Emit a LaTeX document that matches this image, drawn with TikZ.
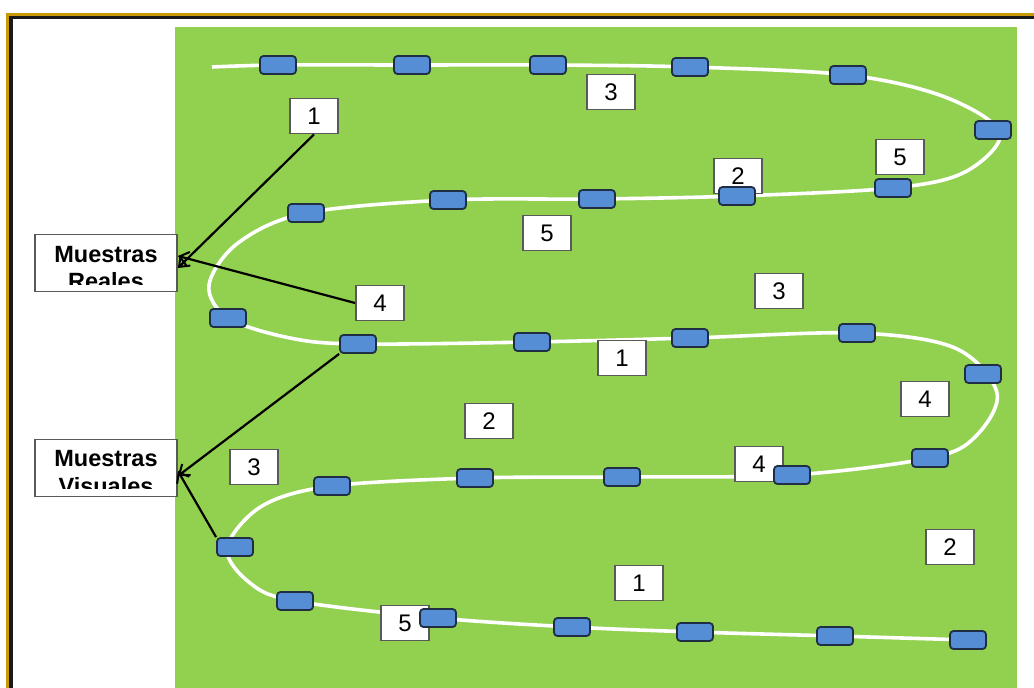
\documentclass[tikz,border=0pt]{standalone}
\usepackage{fontspec}
\setmainfont{Liberation Sans}
\usetikzlibrary{arrows.meta}
\definecolor{fieldgreen}{HTML}{92D050}
\definecolor{sampleblue}{HTML}{558ED5}
\definecolor{sampleedge}{HTML}{1F2E45}
\definecolor{framegold}{HTML}{C99A06}
\tikzset{
  sample/.style={draw=sampleedge, fill=sampleblue, line width=1.8pt, rounded corners=3.5pt, minimum width=36pt, minimum height=18pt, inner sep=0pt},
  numbox/.style={draw=black!65, fill=white, line width=1.8pt, minimum width=48pt, minimum height=35pt, inner sep=0pt, font=\fontsize{24}{24}\selectfont},
  labelbox/.style={draw=black!65, fill=white, line width=1.8pt, minimum width=142pt, minimum height=57pt, inner sep=0pt},
  labeltext/.style={anchor=base, inner sep=0pt, font=\bfseries\fontsize{23.5}{27}\selectfont},
  arr/.style={-{Straight Barb[length=9pt,width=14pt,line width=2pt]}, line width=2.2pt, black}
}
\begin{document}
\begin{tikzpicture}[x=1pt,y=-1pt]
\useasboundingbox (0,0) rectangle (1034,688);
\begin{scope}
\clip (0,0) rectangle (1034,688);
\fill[white] (0,0) rectangle (1034,688);
\draw[framegold, line width=3pt] (7,14) rectangle (1060,720);
\draw[black!90, line width=3.6pt] (11,17.5) rectangle (1060,720);
\fill[fieldgreen] (175,27) rectangle (1017,700);
\end{scope}
% white path
\draw[white, line width=3.6pt] plot[smooth, tension=0.55] coordinates {
 (212,67) (278,65) (412,65) (548,65) (690,67) (848,75) (945,97) (1000,133) (965,172) (893,188)
 (737,196) (597,199) (448,200) (306,213) (238,243) (209,285) (228,318) (290,338) (358,344)
 (532,342) (690,338) (857,333) (955,348) (997,393) (975,437) (930,458)
 (792,475) (622,477) (475,478) (332,486) (262,506) (227,548) (250,583) (295,601)
 (438,618) (572,627) (695,632) (835,636) (968,640)};
% number boxes
\node[numbox] (n1) at (314,116) {1};
\node[numbox] (n2) at (611,92) {3};
\node[numbox] (n3) at (900,157) {5};
\node[numbox] (n4) at (738,176) {2};
\node[numbox] (n5) at (547,233) {5};
\node[numbox] (n6) at (779,291) {3};
\node[numbox] (n7) at (380,303) {4};
\node[numbox] (n8) at (622,358) {1};
\node[numbox] (n9) at (489,421) {2};
\node[numbox] (n10) at (925,399) {4};
\node[numbox] (n11) at (254,467) {3};
\node[numbox] (n12) at (759,464) {4};
\node[numbox] (n13) at (950,547) {2};
\node[numbox] (n14) at (639,583) {1};
\node[numbox] (n15) at (405,623) {5};
% sample boxes
\foreach \i/\p in {1/{(278,65)},2/{(412,65)},3/{(548,65)},4/{(690,67)},5/{(848,75)},6/{(993,130)},
  7/{(893,188)},8/{(737,196)},9/{(597,199)},10/{(448,200)},11/{(306,213)},12/{(228,318)},
  13/{(358,344)},14/{(532,342)},15/{(690,338)},16/{(857,333)},17/{(983,374)},18/{(930,458)},
  19/{(792,475)},20/{(622,477)},21/{(475,478)},22/{(332,486)},23/{(235,547)},24/{(295,601)},
  25/{(438,618)},26/{(572,627)},27/{(695,632)},28/{(835,636)},29/{(968,640)}}
  \node[sample] (s\i) at \p {};
% labels
\node[labelbox] (reales) at (106,263) {};
\begin{scope}
\clip (37,236) rectangle (175,284);
\node[labeltext] (realesA) at (106,262) {Muestras};
\node[labeltext] (realesB) at (106,289) {Reales};
\end{scope}
\node[labelbox] (visuales) at (106,468) {};
\begin{scope}
\clip (37,441) rectangle (175,488);
\node[labeltext] (visualesA) at (106,466) {Muestras};
\node[labeltext] (visualesB) at (106,494) {Visuales};
\end{scope}
% arrows
\draw[arr] (n1.south) -- ([yshift=-5pt]reales.east);
\draw[arr] (n7.west) -- ([yshift=7pt]reales.east);
\draw[arr] (s13.south west) -- ([yshift=-8pt]visuales.east);
\draw[arr] (s23.north west) -- ([yshift=-3pt]visuales.east);
\end{tikzpicture}
\end{document}
